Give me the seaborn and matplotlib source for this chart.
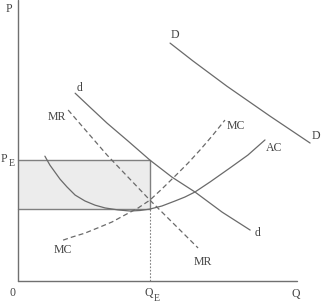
import matplotlib
matplotlib.use("Agg")
import matplotlib.pyplot as plt
import seaborn as sns

sns.set_theme(style="white")
plt.rcParams['font.family'] = ['Liberation Serif', 'DejaVu Serif']

# Market demand D
D_q = [5.43, 6.25, 7.46, 9.00, 10.43]
D_p = [8.50, 7.86, 6.96, 5.89, 4.93]
# Firm demand d
d_q = [2.04, 2.57, 3.18, 3.93, 4.71, 5.50, 6.32, 7.29, 8.29]
d_p = [6.71, 6.21, 5.64, 5.00, 4.32, 3.71, 3.18, 2.46, 1.82]
# Marginal revenue
mr_q = [1.79, 3.18, 4.71, 6.43]
mr_p = [6.11, 4.50, 2.89, 1.18]
# Marginal cost
mc_q = [1.61, 1.93, 2.39, 2.93, 3.36, 3.82, 4.29, 4.71, 5.14, 5.61, 6.07, 6.50, 6.93, 7.39]
mc_p = [1.46, 1.57, 1.71, 1.93, 2.11, 2.36, 2.61, 2.89, 3.29, 3.75, 4.21, 4.68, 5.18, 5.75]
# Average cost
ac_q = [0.96, 1.14, 1.32, 1.50, 1.75, 2.04, 2.39, 2.75, 3.11, 3.57, 4.00, 4.36,
        4.71, 5.14, 5.61, 5.96, 6.32, 6.86, 7.57, 8.21, 8.82]
ac_p = [4.46, 4.14, 3.89, 3.64, 3.36, 3.07, 2.86, 2.71, 2.61, 2.54, 2.50, 2.52,
        2.57, 2.68, 2.86, 3.00, 3.18, 3.54, 4.04, 4.50, 5.04]
# Equilibrium
Q_E = 4.71
P_E = 4.32
AC_E = 2.57

line_c = '#6a6a6a'
fig = plt.figure(figsize=(3.21, 3.03), dpi=100)
ax = fig.add_axes([0, 0, 1, 1])
ax.set_xlim(-0.643, 10.82)
ax.set_ylim(-0.786, 10.04)
ax.axis('off')

# profit rectangle
ax.fill_between([0, Q_E], AC_E, P_E, color='#ececec', zorder=1, linewidth=0)
ax.plot([0, Q_E, Q_E], [P_E, P_E, AC_E], color='#808080', lw=1.0, zorder=2)
ax.plot([0, Q_E], [AC_E, AC_E], color='#808080', lw=1.0, zorder=2)
ax.plot([Q_E, Q_E], [0, AC_E], color='#808080', lw=0.8, ls=(0, (1.5, 1.5)), zorder=2)

kw = dict(ax=ax, color=line_c, linewidth=0.9, errorbar=None, legend=False)
sns.lineplot(x=D_q, y=D_p, **kw)
sns.lineplot(x=d_q, y=d_p, **kw)
sns.lineplot(x=ac_q, y=ac_p, **kw)
sns.lineplot(x=mr_q, y=mr_p, **kw)
sns.lineplot(x=mc_q, y=mc_p, **kw)
ax.lines[-1].set_linestyle((0, (4, 2.5)))
ax.lines[-2].set_linestyle((0, (4, 2.5)))

# axes
ax.plot([0, 0], [0, 10.04], color='#707070', lw=1.0)
ax.plot([0, 9.96], [0, 0], color='#707070', lw=1.0)

tc = '#444444'
fs = 8.5
def lab(x, y, s, size=fs):
    ax.text(x, y, s, fontsize=size, color=tc, ha='center', va='center')

lab(-0.32, 9.71, 'P')
lab(-0.50, 4.36, 'P')
lab(-0.21, 4.20, 'E', 7)
lab(-0.21, -0.43, '0')
lab(4.68, -0.43, 'Q')
lab(4.96, -0.61, 'E', 7)
lab(9.93, -0.46, 'Q')
lab(5.61, 8.79, 'D')
lab(10.64, 5.18, 'D')
lab(2.18, 6.89, 'd')
lab(8.57, 1.71, 'd')
lab(1.39, 5.86, 'MR')
lab(6.61, 0.68, 'MR')
lab(7.79, 5.54, 'MC')
lab(1.61, 1.11, 'MC')
lab(9.14, 4.75, 'AC')

fig.savefig('out.png', dpi=100)
